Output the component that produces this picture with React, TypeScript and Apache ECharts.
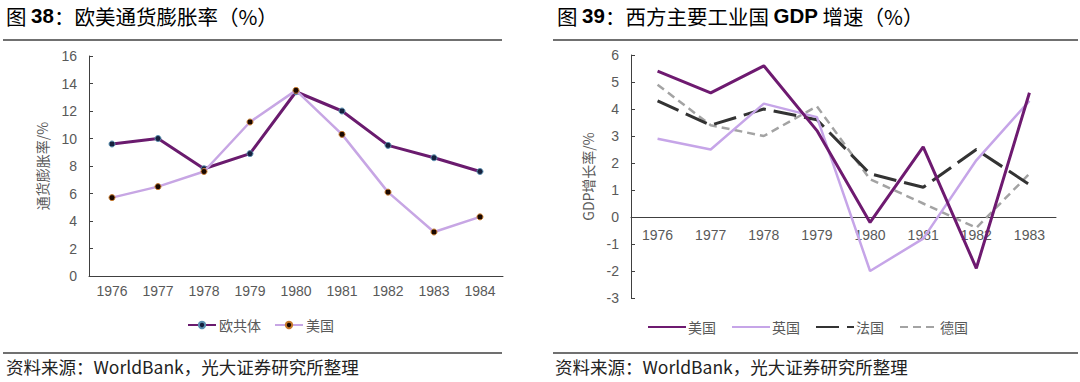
import React, { useEffect, useRef } from "react";
import * as echarts from "echarts";

const inflYears = ["1976", "1977", "1978", "1979", "1980", "1981", "1982", "1983", "1984"];
const inflEC = [9.6, 10.0, 7.8, 8.9, 13.4, 12.0, 9.5, 8.6, 7.6];
const inflUS = [5.7, 6.5, 7.6, 11.2, 13.5, 10.3, 6.1, 3.2, 4.3];

const gdpYears = ["1976", "1977", "1978", "1979", "1980", "1981", "1982", "1983"];
const gdpUS = [5.4, 4.6, 5.6, 3.2, -0.2, 2.6, -1.9, 4.6];
const gdpUK = [2.9, 2.5, 4.2, 3.7, -2.0, -0.8, 2.1, 4.3];
const gdpFR = [4.3, 3.4, 4.0, 3.6, 1.6, 1.1, 2.5, 1.2];
const gdpDE = [4.9, 3.4, 3.0, 4.1, 1.4, 0.5, -0.4, 1.6];

const title38 = ["图 ", "38", "：欧美通货膨胀率（%）"];
const title39 = ["图 ", "39", "：西方主要工业国 ", "GDP", " 增速（%）"];
const sourceText = "资料来源：WorldBank，光大证券研究所整理";

const AXIS = "#404040";
const LABEL = "#595959";
const TITLE = "#7a2a82";
const CJK = "'Noto Sans CJK SC', 'Liberation Sans', sans-serif";
const LAT = "'Liberation Sans', Arial, sans-serif";

export default function App() {
  const ref = useRef<HTMLDivElement>(null);
  useEffect(() => {
    const chart = echarts.init(ref.current!, null, { renderer: "svg" });
    const axisLabel = { color: LABEL, fontSize: 14, fontFamily: LAT };
    const richTitle = {
      n: { fontFamily: CJK, fontSize: 20.5, color: TITLE, fontWeight: "normal" as const },
      b: { fontFamily: LAT, fontSize: 20.5, color: TITLE, fontWeight: "bold" as const },
    };
    const option: any = {
      animation: false,
      backgroundColor: "#ffffff",
      grid: [
        { left: 89, top: 56, width: 414, height: 220 },
        { left: 631, top: 55, width: 425, height: 243 },
      ],
      xAxis: [
        {
          gridIndex: 0,
          type: "category",
          data: inflYears,
          axisLine: { lineStyle: { color: AXIS, width: 1 } },
          axisTick: { inside: true, length: 6, lineStyle: { color: AXIS } },
          axisLabel: { ...axisLabel, margin: 8 },
        },
        {
          gridIndex: 1,
          type: "category",
          data: gdpYears,
          axisLine: { onZero: true, lineStyle: { color: AXIS, width: 1 } },
          axisTick: { inside: true, length: 6, lineStyle: { color: AXIS } },
          axisLabel: { ...axisLabel, margin: -70 },
        },
      ],
      yAxis: [
        {
          gridIndex: 0,
          type: "value",
          min: 0,
          max: 16,
          interval: 2,
          name: "通货膨胀率/%",
          nameLocation: "middle",
          nameGap: 40,
          nameTextStyle: { color: LABEL, fontSize: 14, fontFamily: CJK },
          axisLine: { show: true, lineStyle: { color: AXIS, width: 1 } },
          axisTick: { show: true, inside: true, length: 4, lineStyle: { color: AXIS } },
          axisLabel: { ...axisLabel, margin: 12 },
          splitLine: { show: false },
        },
        {
          gridIndex: 1,
          type: "value",
          min: -3,
          max: 6,
          interval: 1,
          name: "GDP增长率/%",
          nameLocation: "middle",
          nameGap: 36,
          nameTextStyle: { color: LABEL, fontSize: 14, fontFamily: CJK },
          axisLine: { show: true, lineStyle: { color: AXIS, width: 1 } },
          axisTick: { show: true, inside: true, length: 4, lineStyle: { color: AXIS } },
          axisLabel: { ...axisLabel, margin: 12 },
          splitLine: { show: false },
        },
      ],
      legend: [
        {
          left: 187,
          top: 318,
          padding: 0,
          itemWidth: 28,
          itemHeight: 8,
          itemGap: 13,
          textStyle: { color: LABEL, fontSize: 14, fontFamily: CJK, padding: [0, 0, 0, -2] },
          data: ["欧共体", "美国"],
        },
        {
          left: 647,
          top: 320,
          padding: 0,
          itemWidth: 38,
          itemHeight: 8,
          itemGap: 15,
          itemStyle: { color: "rgba(0,0,0,0)", borderWidth: 0, opacity: 0 },
          textStyle: { color: LABEL, fontSize: 14, fontFamily: CJK, padding: [0, 0, 0, -3] },
          formatter: (n: string) => n.trim(),
          data: ["美国 ", "英国", "法国", "德国"],
        },
      ],
      series: [
        {
          name: "欧共体",
          type: "line",
          xAxisIndex: 0,
          yAxisIndex: 0,
          data: inflEC,
          symbol: "circle",
          symbolSize: 6,
          lineStyle: { color: "#6a1b6e", width: 3 },
          itemStyle: { color: "#16213e", borderColor: "#5a8fb0", borderWidth: 1 },
          z: 3,
        },
        {
          name: "美国",
          type: "line",
          xAxisIndex: 0,
          yAxisIndex: 0,
          data: inflUS,
          symbol: "circle",
          symbolSize: 6,
          lineStyle: { color: "#c7a6e4", width: 2.5 },
          itemStyle: { color: "#1a0800", borderColor: "#c87a2c", borderWidth: 1 },
          z: 4,
        },
        {
          name: "美国 ",
          type: "line",
          xAxisIndex: 1,
          yAxisIndex: 1,
          data: gdpUS,
          symbol: "none",
          lineStyle: { color: "#6e1a70", width: 3 },
          itemStyle: { color: "#6e1a70" },
          z: 5,
        },
        {
          name: "英国",
          type: "line",
          xAxisIndex: 1,
          yAxisIndex: 1,
          data: gdpUK,
          symbol: "none",
          lineStyle: { color: "#c6a5e8", width: 2.5 },
          itemStyle: { color: "#c6a5e8" },
          z: 4,
        },
        {
          name: "法国",
          type: "line",
          xAxisIndex: 1,
          yAxisIndex: 1,
          data: gdpFR,
          symbol: "none",
          lineStyle: { color: "#333333", width: 3, type: [23, 8] },
          itemStyle: { color: "#333333" },
          z: 3,
        },
        {
          name: "德国",
          type: "line",
          xAxisIndex: 1,
          yAxisIndex: 1,
          data: gdpDE,
          symbol: "none",
          lineStyle: { color: "#a3a3a3", width: 2.5, type: [8, 5] },
          itemStyle: { color: "#a3a3a3" },
          z: 2,
        },
      ],
      graphic: [
        {
          type: "text",
          left: 6,
          top: 5,
          style: {
            text: `{n|${title38[0]}}{b|${title38[1]}}{n|${title38[2]}}`,
            rich: richTitle,
          },
        },
        {
          type: "text",
          left: 557,
          top: 5,
          style: {
            text: `{n|${title39[0]}}{b|${title39[1]}}{n|${title39[2]}}{b|${title39[3]}}{n|${title39[4]}}`,
            rich: richTitle,
          },
        },
        { type: "line", shape: { x1: 3, y1: 40, x2: 502, y2: 40 }, style: { stroke: AXIS, lineWidth: 1.5 } },
        { type: "line", shape: { x1: 553, y1: 40, x2: 1078, y2: 40 }, style: { stroke: AXIS, lineWidth: 1.5 } },
        { type: "line", shape: { x1: 3, y1: 353, x2: 502, y2: 353 }, style: { stroke: AXIS, lineWidth: 1.5 } },
        { type: "line", shape: { x1: 553, y1: 353, x2: 1078, y2: 353 }, style: { stroke: AXIS, lineWidth: 1.5 } },
        {
          type: "text",
          left: 6,
          top: 358,
          style: { text: sourceText, fill: "#222222", fontSize: 17.5, fontFamily: CJK },
        },
        {
          type: "text",
          left: 555,
          top: 358,
          style: { text: sourceText, fill: "#222222", fontSize: 17.5, fontFamily: CJK },
        },
      ],
    };
    chart.setOption(option);
    return () => chart.dispose();
  }, []);
  return (
    <div
      ref={ref}
      style={{ position: "absolute", left: 0, top: 0, width: 1080, height: 382, background: "#fff" }}
    />
  );
}
